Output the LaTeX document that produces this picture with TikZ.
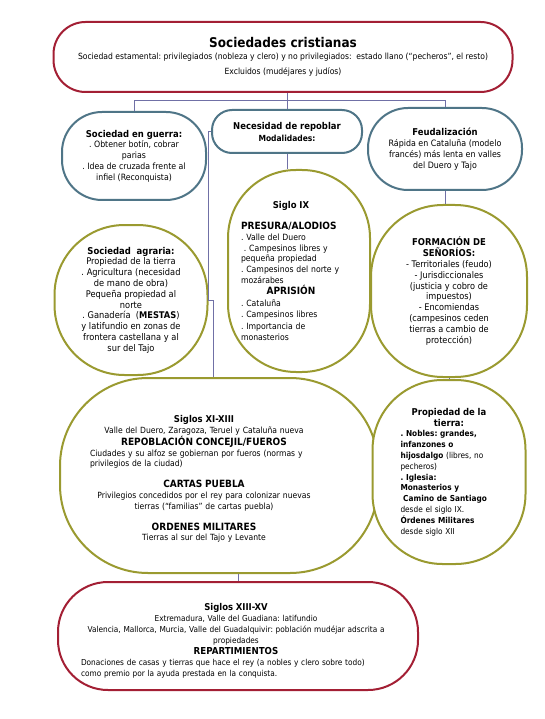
\documentclass[tikz,border=0pt]{standalone}
\usepackage{fontspec}
\setmainfont{DejaVu Sans}[FakeStretch=0.9]
\usepackage{tikz}
\usetikzlibrary{positioning,calc}
\definecolor{crimsonLine}{HTML}{A31F34}
\definecolor{slateLine}{HTML}{4F7587}
\definecolor{oliveLine}{HTML}{9A9A30}
\definecolor{linkLine}{HTML}{7070A6}
\newcommand{\txt}[1]{\fontsize{#1}{10.8}\selectfont}
\newcommand{\hd}{\fontsize{9.4}{10.8}\selectfont\bfseries}
\newcommand{\ctr}[1]{\makebox[\linewidth]{#1}}
\frenchspacing

\begin{document}
\begin{tikzpicture}[x=1pt,y=-1pt,
  box/.style={draw,line width=2pt,fill=white,inner sep=0pt,align=center},
  redbox/.style={box,draw=crimsonLine},
  slatebox/.style={box,draw=slateLine},
  olivebox/.style={box,draw=oliveLine},
  link/.style={draw=linkLine,line width=0.7pt}]
\useasboundingbox (0,0) rectangle (545,719);
% cabecera
\node[redbox,rounded corners=32pt,minimum width=459pt,minimum height=70pt,font=\txt{8.5}] (cristianas) at (283,57)
  {{\fontsize{13.4}{16}\selectfont\bfseries Sociedades cristianas}\\[1pt]
   Sociedad estamental: privilegiados (nobleza y clero) y no privilegiados:\ \ estado llano (“pecheros”, el resto)\\[4pt]
   Excluidos (mudéjares y judíos)};
% segunda fila
\node[slatebox,rounded corners=40pt,minimum width=144pt,minimum height=88pt,font=\txt{8.7}] (guerra) at (134,156)
  {{\hd Sociedad en guerra:}\\ . Obtener botín, cobrar\\ parias\\ . Idea de cruzada frente al\\ infiel (Reconquista)};
\node[slatebox,rounded corners=20pt,minimum width=150pt,minimum height=43pt] (repoblar) at (287,131.5)
  {{\hd Necesidad de repoblar}\\ {\fontsize{8.4}{10.8}\selectfont\bfseries Modalidades:}};
\node[slatebox,rounded corners=40pt,minimum width=154pt,minimum height=82pt,font=\txt{8.8}] (feudal) at (445,149)
  {{\hd Feudalización}\\ Rápida en Cataluña (modelo\\ francés) más lenta en valles\\ del Duero y Tajo};
% tercera fila
\node[olivebox,rounded corners=70pt,minimum width=153pt,minimum height=150pt,font=\txt{9.2}] (agraria) at (131,300)
  {{\hd Sociedad\ \ agraria:}\\ Propiedad de la tierra\\ . Agricultura (necesidad\\ de mano de obra)\\ Pequeña propiedad al\\ norte\\ . Ganadería\ \ (\textbf{MESTAS})\\ y latifundio en zonas de\\ frontera castellana y al\\ sur del Tajo};
\node[olivebox,rounded corners=68pt,minimum width=142pt,minimum height=202pt] (nueve) at (299,271) {};
\node[text width=100pt,align=left,inner sep=0pt,font=\txt{8.6}] (nuevetxt) at (291,271)
  {\ctr{\hd Siglo IX}\\[10pt]
   {\fontsize{10}{10.8}\selectfont\bfseries PRESURA/ALODIOS}\\ . Valle del Duero\\ \ . Campesinos libres y\\ pequeña propiedad\\ . Campesinos del norte y\\ mozárabes\\
   \ctr{\fontsize{10}{10.8}\selectfont\bfseries APRISIÓN}\\[1pt] . Cataluña\\[1pt] . Campesinos libres\\[1pt] . Importancia de\\ monasterios};
\node[olivebox,rounded corners=72pt,minimum width=156pt,minimum height=172pt,font=\txt{9.1}] (senorios) at (449,291)
  {{\hd FORMACIÓN DE}\\ {\hd SEÑORÍOS:}\\ - Territoriales (feudo)\\ - Jurisdiccionales\\ (justicia y cobro de\\ impuestos)\\ - Encomiendas\\ (campesinos ceden\\ tierras a cambio de\\ protección)};
% cuarta fila
\node[olivebox,rounded corners=88pt,minimum width=318pt,minimum height=195pt] (concejil) at (219,475.5) {};
\node[text width=228pt,align=center,inner sep=0pt,font=\txt{8.5}] (concejiltxt) at (204,479)
  {{\hd Siglos XI-XIII}\\ Valle del Duero, Zaragoza, Teruel y Cataluña nueva\\
   {\fontsize{10}{10.8}\selectfont\bfseries REPOBLACIÓN CONCEJIL/FUEROS}\\
   \makebox[\linewidth][s]{Ciudades y su alfoz se gobiernan por fueros (normas y}\\
   \makebox[\linewidth][l]{privilegios de la ciudad)}\\[10pt]
   {\fontsize{10}{10.8}\selectfont\bfseries CARTAS PUEBLA}\\ Privilegios concedidos por el rey para colonizar nuevas\\ tierras (“familias” de cartas puebla)\\[10pt]
   {\fontsize{10}{10.8}\selectfont\bfseries ORDENES MILITARES}\\ Tierras al sur del Tajo y Levante};
\node[olivebox,rounded corners=70pt,minimum width=153pt,minimum height=184pt,text width=97pt,align=left,font=\txt{8.2}] (propiedad) at (449,472)
  {\ctr{\hd Propiedad de la}\\ \ctr{\hd tierra:}\\ \textbf{. Nobles: grandes,}\\ \textbf{infanzones o}\\ \textbf{hijosdalgo} (libres, no\\ pecheros)\\ \textbf{. Iglesia:}\\ \textbf{Monasterios y}\\ \textbf{\ Camino de Santiago}\\ desde el siglo IX.\\ \textbf{Órdenes Militares}\\ desde siglo XII};
% quinta fila
\node[redbox,rounded corners=50pt,minimum width=360pt,minimum height=108pt] (reparto) at (238,636) {};
\node[text width=310pt,align=center,inner sep=0pt,font={\fontsize{8.2}{11}\selectfont}] (repartotxt) at (236,641)
  {{\hd Siglos XIII-XV}\\ Extremadura, Valle del Guadiana: latifundio\\ Valencia, Mallorca, Murcia, Valle del Guadalquivir: población mudéjar adscrita a\\ propiedades\\
   {\fontsize{9.6}{11}\selectfont\bfseries REPARTIMIENTOS}\\
   \makebox[\linewidth][l]{Donaciones de casas y tierras que hace el rey (a nobles y clero sobre todo)}\\
   \makebox[\linewidth][l]{como premio por la ayuda prestada en la conquista.}};
% conectores
\draw[link] (repoblar.north) -- (repoblar.north |- cristianas.south);
\draw[link] (guerra.north) -- ++(0,-11) -| (feudal.north);
\coordinate (corte) at (208,300);
\draw[link] (repoblar.west) -| (corte) -- (agraria.east);
\draw[link] (corte) -- ++(5,0) coordinate (corte2) -- (corte2 |- concejil.north);
\draw[link] (repoblar.south) -- (repoblar.south |- nueve.north);
\draw[link] (feudal.south) -- (feudal.south |- senorios.north);
\draw[link] (propiedad.north) -- (propiedad.north |- senorios.south);
\draw[link] (reparto.north) -- (reparto.north |- concejil.south);
\end{tikzpicture}
\end{document}
